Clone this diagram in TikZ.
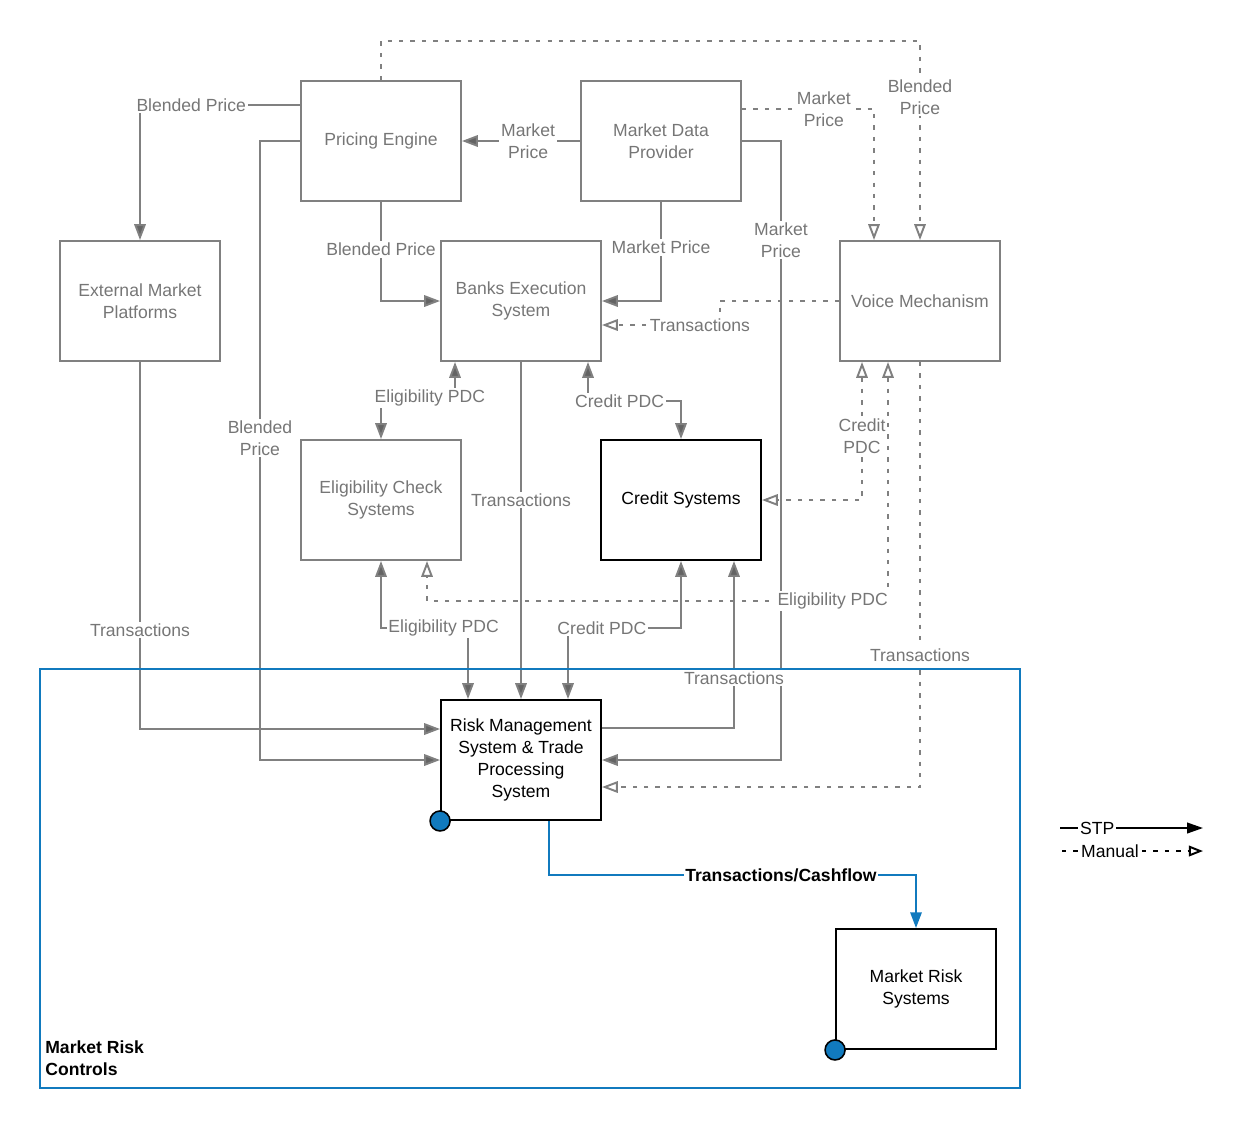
\documentclass[tikz,border=0pt]{standalone}
\usepackage{fontspec}
\setmainfont{Liberation Sans}
\usetikzlibrary{arrows.meta}
\definecolor{linegray}{RGB}{128,128,128}
\definecolor{tipgray}{RGB}{100,100,100}
\definecolor{textgray}{RGB}{118,118,118}
\definecolor{riskblue}{RGB}{17,122,190}

\begin{document}
\begin{tikzpicture}
[x=0.02cm, y=-0.02cm,
font=\fontsize{10}{12.5}\selectfont,
sysbox/.style={draw=linegray, line width=1.1pt, text=textgray, minimum width=3.2cm, minimum height=2.4cm, align=center, inner sep=0pt},
keybox/.style={draw=black, line width=1.1pt, minimum width=3.2cm, minimum height=2.4cm, align=center, inner sep=0pt},
lbl/.style={fill=white, text=textgray, align=center, inner sep=1pt},
stp/.style={draw=linegray, line width=1.1pt, ->, >={Triangle[length=9pt,width=6.5pt,fill=tipgray]}},
manual/.style={draw=linegray, line width=1.1pt, dash pattern=on 2.5pt off 4pt, ->, >={Triangle[open,length=9pt,width=6.5pt]}},
cash/.style={draw=riskblue, line width=1.1pt, ->, >={Triangle[length=9pt,width=6.5pt]}},
dot/.style={circle, draw=black, fill=riskblue, line width=0.9pt, minimum size=0.4cm, inner sep=0pt},
legstp/.style={draw=black, line width=1.1pt, ->, >={Triangle[length=9pt,width=6pt]}},
legman/.style={draw=black, line width=1.1pt, dash pattern=on 2.5pt off 4pt, ->, >={Triangle[open,length=8pt,width=6pt]}}]
  \useasboundingbox (0,0) rectangle (1244,1130);

  \node[sysbox] (pricing) at (381,141) {Pricing Engine};
  \node[sysbox] (mdp) at (661,141) {Market Data\\Provider};
  \node[sysbox] (emp) at (140,301) {External Market\\Platforms};
  \node[sysbox] (bes) at (521,301) {Banks Execution\\System};
  \node[sysbox] (voice) at (920,301) {Voice Mechanism};
  \node[sysbox] (ecs) at (381,500) {Eligibility Check\\Systems};
  \node[keybox] (credit) at (681,500) {Credit Systems};
  \node[keybox] (rms) at (521,760) {Risk Management\\System \& Trade\\Processing\\System};
  \node[keybox] (mrs) at (916,989) {Market Risk\\Systems};

  \draw[stp] (pricing.west |- 0,105) -| (emp.north) node[lbl,pos=0.34] (bp1) {Blended Price};
  \draw[stp] (mdp.west) -- (pricing.east) node[lbl,pos=0.44] (mp1) {Market\\Price};
  \draw[stp] (pricing.south) |- (bes.west) node[lbl,pos=0.24] (bp2) {Blended Price};
  \draw[stp] (mdp.south) |- (bes.east) node[lbl,pos=0.23] (mp2) {Market Price};
  \draw[stp] (mdp.east) -| (781,760) node[lbl,pos=0.58] (mp3) {Market\\Price} -- (rms.east);
  \draw[stp] (pricing.west) -| (260,760) node[lbl,pos=0.74] (bp3) {Blended\\Price} -- (rms.west);
  \draw[stp] (emp.south) |- (rms.west |- 0,729) node[lbl,pos=0.365] (tr1) {Transactions};
  \draw[stp] (bes.south) -- (rms.north) node[lbl,pos=0.41] (tr2) {Transactions};
  \draw[stp,<->] (ecs.north) |- (455,398) node[lbl,pos=0.83] (ep1) {Eligibility PDC} -- (bes.south -| 455,0);
  \draw[stp,<->] (bes.south -| 588,0) -- (588,401) -| (credit.north) node[lbl,pos=0.17] (cp1) {Credit PDC};
  \draw[stp,<->] (rms.north -| 468,0) |- (ecs.south |- 0,628) node[lbl,pos=0.64] (ep2) {Eligibility PDC} -- (ecs.south);
  \draw[stp,<->] (rms.north -| 568,0) |- (credit.south |- 0,628) node[lbl,pos=0.65] (cp2) {Credit PDC} -- (credit.south);
  \draw[stp] (rms.east |- 0,728) -| (credit.south -| 734,0) node[lbl,pos=0.65] (tr3) {Transactions};

  \draw[manual] (pricing.north) -- (381,41) -| (voice.north) node[lbl,pos=0.64] (bp4) {Blended\\Price};
  \draw[manual] (mdp.east |- 0,109) -| (voice.north -| 874,0) node[lbl,pos=0.31] (mp4) {Market\\Price};
  \draw[manual] (voice.west) -| (720,325) -- (bes.east |- 0,325) node[lbl,pos=0.17] (tr4) {Transactions};
  \draw[manual,<->] (voice.south -| 862,0) |- (credit.east) node[lbl,pos=0.27] (cp3) {Credit\\PDC};
  \draw[manual,<->] (voice.south -| 888,0) |- (427,601) node[lbl,pos=0.56] (ep3) {Eligibility PDC} -- (ecs.south -| 427,0);
  \draw[manual] (voice.south) |- (rms.east |- 0,787) node[lbl,pos=0.345] (tr5) {Transactions};

  \node[draw=riskblue, line width=1.1pt, minimum width=19.6cm, minimum height=8.38cm, inner sep=0pt] (mrc) at (530,878.5) {};
  \node[anchor=west, align=left, inner sep=0pt, font=\fontsize{10}{12.5}\selectfont\bfseries] (mrclbl) at (45,1058) {Market Risk\\Controls};

  \draw[cash] (rms.south -| 549,0) -- (549,875) -| (mrs.north) node[pos=0.316, fill=white, inner sep=1pt, font=\fontsize{10}{12.5}\selectfont\bfseries] (tc) {Transactions/Cashflow};
  \node[dot] (rmsdot) at (rms.south west) {};
  \node[dot] (mrsdot) at (mrs.south west) {};

  \coordinate (stpa) at (1060,828);
  \coordinate (stpb) at (1203,828);
  \draw[legstp] (stpa) -- (stpb) node[pos=0.26, fill=white, inner sep=1pt] (stpl) {STP};
  \coordinate (mana) at (1062,851);
  \coordinate (manb) at (1203,851);
  \draw[legman] (mana) -- (manb) node[pos=0.34, fill=white, inner sep=1pt] (manl) {Manual};
\end{tikzpicture}
\end{document}
